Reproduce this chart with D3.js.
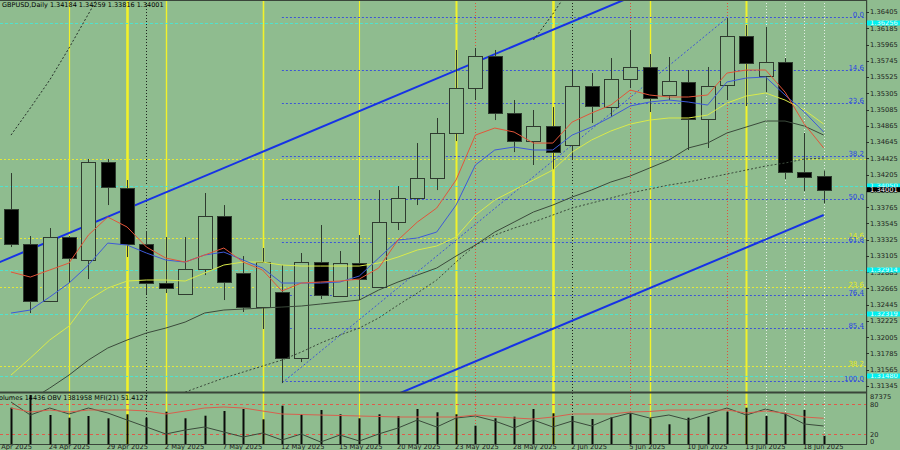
<!DOCTYPE html>
<html><head><meta charset="utf-8">
<script src="https://cdn.jsdelivr.net/npm/d3@7"></script>
<style>html,body{margin:0;padding:0;background:#8FBC8F;overflow:hidden}text{font-family:"DejaVu Sans",sans-serif}</style>
</head><body><svg id="c" width="900" height="450"></svg>
<script>
// ---------- DATA ----------
const dates = ["22 Apr","23 Apr","24 Apr","25 Apr","28 Apr","29 Apr","30 Apr","1 May","2 May","5 May","6 May","7 May","8 May","9 May","12 May","13 May","14 May","15 May","16 May","19 May","20 May","21 May","22 May","23 May","26 May","27 May","28 May","29 May","30 May","2 Jun","3 Jun","4 Jun","5 Jun","6 Jun","9 Jun","10 Jun","11 Jun","12 Jun","13 Jun","16 Jun","17 Jun","18 Jun","19 Jun"];
const open  = [1.33739,1.33266,1.32495,1.33360,1.33049,1.34375,1.34023,1.33266,1.32738,1.32589,1.32927,1.33645,1.32873,1.32413,1.32616,1.31723,1.33022,1.32562,1.33009,1.32684,1.33563,1.33888,1.34159,1.34768,1.35376,1.35809,1.35038,1.34659,1.34862,1.34605,1.35403,1.35119,1.35498,1.35661,1.35282,1.35458,1.34957,1.35417,1.36080,1.35539,1.35728,1.34240,1.34184];
const high  = [1.34226,1.33374,1.33482,1.33374,1.34416,1.34416,1.34132,1.33442,1.33360,1.33360,1.33956,1.33793,1.33103,1.33212,1.32982,1.33144,1.33523,1.33171,1.33387,1.33996,1.34050,1.34632,1.34971,1.35891,1.35918,1.35891,1.35214,1.35079,1.35119,1.35620,1.35579,1.35782,1.36161,1.35836,1.35796,1.35620,1.35661,1.36323,1.36229,1.36202,1.35782,1.34768,1.34259];
const low   = [1.33225,1.32332,1.32481,1.32738,1.32792,1.33793,1.33090,1.32589,1.32603,1.32589,1.32846,1.32508,1.32346,1.32116,1.31385,1.31669,1.32522,1.32549,1.32508,1.32684,1.33455,1.33793,1.33996,1.34659,1.35214,1.34943,1.34510,1.34335,1.34267,1.34402,1.34903,1.34984,1.35376,1.35052,1.35214,1.34538,1.34565,1.35214,1.35133,1.35322,1.34145,1.33983,1.33816];
const close = [1.33266,1.32495,1.33360,1.33076,1.34375,1.34037,1.33266,1.32738,1.32670,1.32927,1.33645,1.32752,1.32413,1.33022,1.31723,1.33022,1.32576,1.33009,1.32792,1.33563,1.33888,1.34159,1.34768,1.35376,1.35809,1.35038,1.34659,1.34862,1.34510,1.35403,1.35133,1.35498,1.35661,1.35241,1.35471,1.34957,1.35403,1.36080,1.35715,1.35728,1.34240,1.34172,1.34001];
const volume = [63430,85630,50680,45960,48930,44910,51900,45960,56440,44910,49450,57670,61160,43160,66930,51900,59420,51900,44910,51900,48930,61160,55400,51900,31980,44910,47710,61160,53650,48930,43690,46660,53650,44910,34430,45960,47710,56440,63430,48930,53650,59420,14436];
const maRed    = [1.32887,1.32819,1.32914,1.33009,1.33387,1.33631,1.33496,1.33225,1.33076,1.33022,1.33117,1.33212,1.33022,1.32914,1.32630,1.32738,1.32752,1.32765,1.32792,1.32941,1.33320,1.33563,1.33753,1.34132,1.34740,1.34835,1.34781,1.34632,1.34632,1.34916,1.35038,1.35146,1.35349,1.35282,1.35255,1.35255,1.35282,1.35579,1.35620,1.35620,1.35322,1.34889,1.34565];
const maBlue   = [1.32332,1.32373,1.32549,1.32738,1.32982,1.33279,1.33252,1.33144,1.33049,1.33022,1.33117,1.33157,1.33049,1.32941,1.32738,1.32738,1.32738,1.32752,1.32833,1.33076,1.33320,1.33347,1.33428,1.33793,1.34335,1.34538,1.34578,1.34538,1.34538,1.34740,1.34849,1.34984,1.35133,1.35187,1.35214,1.35187,1.35146,1.35458,1.35512,1.35525,1.35282,1.35052,1.34781];
const maYellow = [1.31493,1.31723,1.31967,1.32156,1.32508,1.32670,1.32765,1.32779,1.32779,1.32765,1.32873,1.32982,1.33022,1.33022,1.32982,1.32968,1.32968,1.32968,1.32968,1.33009,1.33090,1.33185,1.33239,1.33360,1.33658,1.33861,1.33996,1.34132,1.34267,1.34510,1.34673,1.34795,1.34889,1.34943,1.34971,1.34971,1.35011,1.35173,1.35268,1.35309,1.35214,1.35079,1.34889];
const maSlow   = [1.31020,1.31155,1.31317,1.31493,1.31696,1.31859,1.31967,1.32062,1.32129,1.32210,1.32332,1.32373,1.32386,1.32400,1.32413,1.32427,1.32454,1.32481,1.32508,1.32643,1.32752,1.32846,1.32941,1.33103,1.33252,1.33428,1.33563,1.33699,1.33793,1.33902,1.33996,1.34105,1.34186,1.34294,1.34402,1.34565,1.34632,1.34768,1.34849,1.34930,1.34930,1.34862,1.34740];
const maDotted = [null,null,null,null,null,null,null,null,null,1.31263,1.31358,1.31453,1.31534,1.31615,1.31696,1.31804,1.31926,1.32034,1.32129,1.32265,1.32440,1.32603,1.32779,1.33022,1.33252,1.33387,1.33482,1.33563,1.33658,1.33753,1.33820,1.33888,1.33956,1.34010,1.34064,1.34105,1.34159,1.34213,1.34267,1.34321,1.34362,1.34416,1.34429];
const bandUpper = [1.34740,1.35106,1.35485,1.35918,1.36378,1.36838,null,null,null,null,null,null,null,null,null,null,null,null,null,null,null,null,null,null,null,null,null,1.36026,1.36378,1.36770,null,null,null,null,null,null,null,null,null,null,null,null,null];
const obv = [1549958,1458958,1507958,1465958,1507958,1472958,1423958,1374958,1325958,1353958,1374958,1339958,1304958,1332958,1283958,1325958,1269958,1318958,1276958,1325958,1367958,1423958,1374958,1437958,1451958,1416958,1367958,1423958,1374958,1416958,1381958,1437958,1472958,1437958,1458958,1423958,1465958,1507958,1458958,1500958,1465958,1395958,1381958];
const mfi = [72,64,68,64,68,68,68,66,60,66,72,74,72,66,60,59,58,57,56,55,54,54,54,54,58,55,52,50,54,60,60,60,64,65,68,68,68,68,62,66,62,54,51.4127];
const priceTicks = [1.36405,1.36185,1.35965,1.35745,1.35525,1.35305,1.35085,1.34865,1.34645,1.34425,1.34205,1.33985,1.33765,1.33545,1.33325,1.33105,1.32885,1.32665,1.32445,1.32225,1.32005,1.31785,1.31565,1.31345];
const dateTickBars = [-1,2,5,8,11,14,17,20,23,26,29,32,35,38,41];
const dateTickLabels = ["21 Apr 2025","24 Apr 2025","29 Apr 2025","2 May 2025","7 May 2025","12 May 2025","15 May 2025","20 May 2025","23 May 2025","28 May 2025","2 Jun 2025","5 Jun 2025","10 Jun 2025","13 Jun 2025","18 Jun 2025"];
const panelTicks = ["87375","80","20","0"];
const panelTickValues = [100,80,20,0];
const fibLevels = [0,14.6,23.6,38.2,50,61.8,76.4,85.4,100];
const fibBlueAnchor = [14, 1.36337, 1.31412];      // start bar, price at 0%, price at 100%
const fibYellowLevels = [14.6,23.6,38.2];
const fibYellowAnchor = [1.34416, 1.27096];
const cyanLevels = [1.36256,1.34050,1.32914,1.32319,1.31480];
const channelUpper = [[-2,1.32865],[42,1.37704]];
const channelLower = [[-2,1.28818],[42,1.33658]];
const trendLine = [[14,1.31385],[37,1.36323]];
const yellowBars = [3,6,8,13,18,23,28,33,38];
const redDotBars = [24,32,37];
const blackDotBars = [7,29];
const whiteDotBars = [39,40,41,42];
const header = "GBPUSD,Daily  1.34184 1.34259 1.33816 1.34001";
const panelHeader = "Volumes 14436  OBV 1381958  MFI(21) 51.4127";
const lastPrice = 1.34001;
const volMax = 87375;
const obvRange = [1255958, 1605958];

// ---------- LAYOUT ----------
const svg = d3.select("#c");
const plotR = 866, mainB = 392, panT = 393, panB = 444;
const BG = "#8FBC8F", DARK = "#2f3b2f";
const x = d3.scaleLinear().domain([0,42]).range([11, 823.7]);
const y = d3.scaleLinear().domain([1.31345,1.36405]).range([386,12]);
const yVol = d3.scaleLinear().domain([0,volMax]).range([panB,panT+1]);
const yPct = d3.scaleLinear().domain([0,100]).range([panB,panT+1]);
const yObv = d3.scaleLinear().domain(obvRange).range([panB,panT+1]);
const px = i => Math.round(x(i)) + 0.5;

svg.append("rect").attr("width",900).attr("height",450).attr("fill",BG);
const defs = svg.append("defs");
defs.append("clipPath").attr("id","cm").append("rect").attr("x",0).attr("y",0).attr("width",plotR).attr("height",mainB);
defs.append("clipPath").attr("id","cp").append("rect").attr("x",0).attr("y",panT).attr("width",plotR).attr("height",panB-panT);

const gM = svg.append("g").attr("clip-path","url(#cm)");
const gP = svg.append("g").attr("clip-path","url(#cp)");

function vlines(bars, color, widthFn, dash){
  [gM,gP].forEach(g=>{
    g.selectAll(null).data(bars).enter().append("line")
      .attr("x1",d=>px(d)).attr("x2",d=>px(d)).attr("y1",0).attr("y2",panB)
      .attr("stroke",color).attr("stroke-width",widthFn).attr("stroke-dasharray",dash||null);
  });
}
const yW = {3:1.2,6:2.6,8:1.4,13:1.6,18:1.1,23:2,28:2.6,33:1.4,38:2};
vlines(whiteDotBars,"#e6efe6",1,"1,2");
vlines(yellowBars,"#f2f22a",d=>yW[d]||1.2);
vlines(redDotBars,"#e0503c",1,"1,2");
vlines(blackDotBars,"#1e241e",1,"1,2");

gM.selectAll(null).data(cyanLevels).enter().append("line")
  .attr("x1",0).attr("x2",plotR).attr("y1",d=>Math.round(y(d))+0.5).attr("y2",d=>Math.round(y(d))+0.5)
  .attr("stroke","#4fe3cf").attr("stroke-width",1).attr("stroke-dasharray","3,2");

const fy = l => fibYellowAnchor[0] + (fibYellowAnchor[1]-fibYellowAnchor[0])*l/100;
gM.selectAll(null).data([0].concat(fibYellowLevels)).enter().append("line")
  .attr("x1",0).attr("x2",plotR).attr("y1",d=>Math.round(y(fy(d)))+0.5).attr("y2",d=>Math.round(y(fy(d)))+0.5)
  .attr("stroke","#e3e83a").attr("stroke-width",1).attr("stroke-dasharray","2,2");
const fb = l => fibBlueAnchor[1] + (fibBlueAnchor[2]-fibBlueAnchor[1])*l/100;
gM.selectAll(null).data(fibLevels).enter().append("line")
  .attr("x1",x(fibBlueAnchor[0])).attr("x2",plotR).attr("y1",d=>Math.round(y(fb(d)))+0.5).attr("y2",d=>Math.round(y(fb(d)))+0.5)
  .attr("stroke","#3d55d6").attr("stroke-width",1).attr("stroke-dasharray","2,2");

const segLine = d3.line().x(d=>x(d[0])).y(d=>y(d[1]));
[channelUpper,channelLower].forEach(c=>{
  gM.append("path").attr("d",segLine(c)).attr("fill","none").attr("stroke","#1632e6").attr("stroke-width",2);
});
gM.append("path").attr("d",segLine(trendLine)).attr("fill","none").attr("stroke","#3d55d6").attr("stroke-width",1).attr("stroke-dasharray","2,2");

const idx = d3.range(open.length);
gM.selectAll(null).data(idx).enter().append("line")
  .attr("x1",px).attr("x2",px).attr("y1",i=>y(high[i])).attr("y2",i=>y(low[i]))
  .attr("stroke",DARK).attr("stroke-width",1);
gM.selectAll(null).data(idx).enter().append("rect")
  .attr("x",i=>Math.round(x(i))-6.5).attr("width",14)
  .attr("y",i=>Math.round(y(Math.max(open[i],close[i])))+0.5)
  .attr("height",i=>Math.max(1,Math.round(y(Math.min(open[i],close[i])))-Math.round(y(Math.max(open[i],close[i])))))
  .attr("fill",i=>close[i]>=open[i]?BG:"#000").attr("stroke",DARK).attr("stroke-width",1);

const ln = d3.line().defined(d=>d!=null).x((d,i)=>x(i)).y(d=>y(d));
function ma(data,color,dash,w){
  gM.append("path").attr("d",ln(data)).attr("fill","none").attr("stroke",color).attr("stroke-width",w||1).attr("stroke-dasharray",dash||null);
}
ma(maSlow,"#3b4a3b");
ma(maDotted,"#3b4a3b","2,2");
ma(bandUpper,"#26302a","2,2");
ma(maYellow,"#d9ea4a");
ma(maBlue,"#3e5ad8");
ma(maRed,"#e2553a");

svg.selectAll(null).data(fibYellowLevels).enter().append("text")
  .attr("x",864).attr("y",d=>Math.round(y(fy(d)))).attr("text-anchor","end")
  .attr("font-size",7).attr("fill","#e8ea20").text(d=>d.toFixed(1));
svg.selectAll(null).data(fibLevels).enter().append("text")
  .attr("x",864).attr("y",d=>Math.round(y(fb(d)))).attr("text-anchor","end")
  .attr("font-size",7).attr("fill","#2b47e0").text(d=>d.toFixed(1));

svg.append("rect").attr("x",0).attr("y",0).attr("width",plotR).attr("height",1).attr("fill","#3a453a");
svg.append("rect").attr("x",plotR).attr("y",0).attr("width",1.2).attr("height",panB).attr("fill","#3a453a");
svg.append("rect").attr("x",0).attr("y",mainB-0.5).attr("width",plotR).attr("height",2).attr("fill","#3a453a");
svg.append("rect").attr("x",0).attr("y",panB).attr("width",plotR+1).attr("height",1).attr("fill","#3a453a");

svg.selectAll(null).data(priceTicks).enter().append("line")
  .attr("x1",plotR).attr("x2",plotR+3).attr("y1",d=>Math.round(y(d))+0.5).attr("y2",d=>Math.round(y(d))+0.5).attr("stroke","#2c342c");
svg.selectAll(null).data(priceTicks).enter().append("text")
  .attr("x",870).attr("y",d=>y(d)+2.4).attr("font-size",6.7).attr("fill","#1c221c").text(d=>d.toFixed(5));

function axisBox(p,fill,txtFill,id){
  const cy = y(p);
  const cp = defs.append("clipPath").attr("id",id);
  cp.append("rect").attr("x",867).attr("y",cy-2.5).attr("width",33).attr("height",5);
  svg.append("rect").attr("x",867).attr("y",cy-2.5).attr("width",33).attr("height",5).attr("fill",fill);
  svg.append("text").attr("clip-path",`url(#${id})`).attr("x",870).attr("y",cy+2.4).attr("font-size",6.7).attr("fill",txtFill).text(p.toFixed(5));
}
cyanLevels.forEach((p,k)=>axisBox(p,"#00f0f0","#e8fff8","cb"+k));
axisBox(lastPrice,"#000","#ffffff","lp");

svg.append("text").attr("x",2).attr("y",7).attr("font-size",6.5).attr("fill","#000").text(header);

[80,20].forEach(v=>{
  gP.append("line").attr("x1",0).attr("x2",plotR).attr("y1",Math.round(yPct(v))+0.5).attr("y2",Math.round(yPct(v))+0.5)
    .attr("stroke","#e05a4a").attr("stroke-dasharray","3,3").attr("stroke-width",1);
});
gP.selectAll(null).data(idx).enter().append("rect")
  .attr("x",i=>Math.round(x(i))-0.5).attr("width",2).attr("y",i=>yVol(volume[i])).attr("height",i=>panB-yVol(volume[i])).attr("fill","#0a0a0a");
const lnP = (sc)=>d3.line().x((d,i)=>x(i)).y(d=>sc(d));
gP.append("path").attr("d",lnP(yObv)(obv)).attr("fill","none").attr("stroke","#3b4a3b").attr("stroke-width",1);
gP.append("path").attr("d",lnP(yPct)(mfi)).attr("fill","none").attr("stroke","#d8604e").attr("stroke-width",1);
svg.append("text").attr("x",-5).attr("y",399.5).attr("font-size",6.5).attr("fill","#000").text(panelHeader);
svg.selectAll(null).data(panelTickValues).enter().append("text")
  .attr("x",870).attr("y",(d,k)=>[398.5,406.5,436.5,444][k]).attr("font-size",6.7).attr("fill","#1c221c").text((d,k)=>panelTicks[k]);

svg.selectAll(null).data(dateTickBars).enter().append("text")
  .attr("x",d=>x(d)-1).attr("y",449.3).attr("font-size",6.7).attr("fill","#1c221c").text((d,k)=>dateTickLabels[k]);
</script></body></html>
